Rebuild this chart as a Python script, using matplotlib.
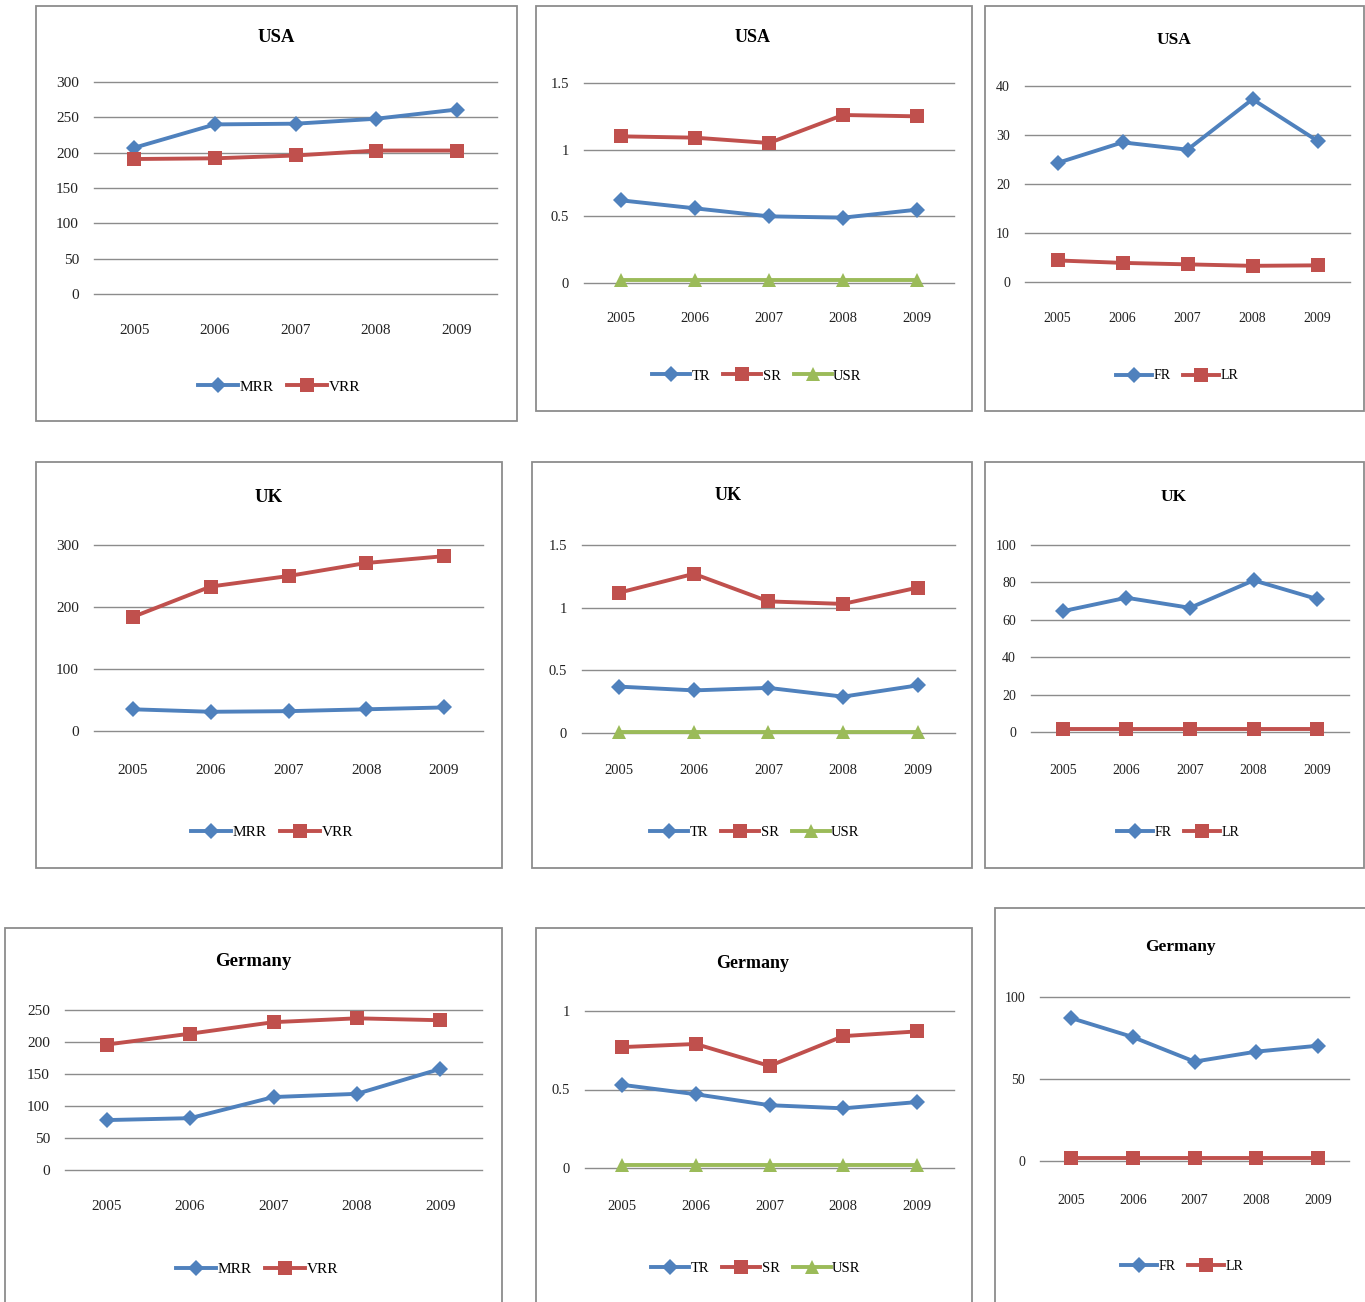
import matplotlib
matplotlib.use("Agg")
import matplotlib.pyplot as plt
from matplotlib.patches import Rectangle

plt.rcParams["font.family"] = ["Liberation Serif", "DejaVu Serif"]

W, H = 1365, 1302
DPI = 100
PX = 72.0 / DPI  # points per pixel

# ------------------------------------------------------------
# DATA
# ------------------------------------------------------------
years = ["2005", "2006", "2007", "2008", "2009"]

usa_mrr = [207, 240, 241, 248, 261]
usa_vrr = [191, 192, 196, 203, 203]
usa_tr = [0.62, 0.56, 0.50, 0.49, 0.55]
usa_sr = [1.10, 1.09, 1.05, 1.26, 1.25]
usa_usr = [0.02, 0.02, 0.02, 0.02, 0.02]
usa_fr = [24.3, 28.5, 27.0, 37.3, 28.8]
usa_lr = [4.4, 3.9, 3.6, 3.3, 3.4]

uk_mrr = [35, 31, 32, 35, 38]
uk_vrr = [184, 233, 250, 271, 282]
uk_tr = [0.37, 0.34, 0.36, 0.29, 0.38]
uk_sr = [1.12, 1.27, 1.05, 1.03, 1.16]
uk_usr = [0.01, 0.01, 0.01, 0.01, 0.01]
uk_fr = [64.6, 71.8, 66.4, 81.1, 71.1]
uk_lr = [1.4, 1.4, 1.4, 1.4, 1.4]

de_mrr = [78, 81, 114, 119, 158]
de_vrr = [196, 213, 231, 237, 234]
de_tr = [0.53, 0.47, 0.40, 0.38, 0.42]
de_sr = [0.77, 0.79, 0.65, 0.84, 0.87]
de_usr = [0.02, 0.02, 0.02, 0.02, 0.02]
de_fr = [87.2, 75.6, 60.6, 66.7, 70.3]
de_lr = [1.6, 1.6, 1.6, 1.6, 1.6]

# ------------------------------------------------------------
# STYLE
# ------------------------------------------------------------
BLUE = "#4F81BD"
RED = "#C0504D"
GREEN = "#9BBB59"
GRID = "#8C8C8C"
FRAME = "#8C8C8C"

STYLE = {
    "MRR": (BLUE, "D", 8.0), "TR": (BLUE, "D", 8.0), "FR": (BLUE, "D", 8.0),
    "VRR": (RED, "s", 10.0), "SR": (RED, "s", 10.0), "LR": (RED, "s", 10.0),
    "USR": (GREEN, "^", 10.0),
}

# frame box, plot box (x0, ytop, x1, ybottom), y range, title/tick/legend rows
PANELS = [
    dict(title="USA", series={"MRR": usa_mrr, "VRR": usa_vrr},
         frame=(36, 6, 517, 421), plot=(94, 82, 497, 294), ymax=300, ystep=50,
         title_xy=(276, 38), tick_y=330, leg_xy=(279, 387), fs=11),
    dict(title="USA", series={"TR": usa_tr, "SR": usa_sr, "USR": usa_usr},
         frame=(536, 6, 972, 411), plot=(584, 83, 954, 283), ymax=1.5, ystep=0.5,
         title_xy=(753, 38), tick_y=319, leg_xy=(757, 376), fs=10.5),
    dict(title="USA", series={"FR": usa_fr, "LR": usa_lr},
         frame=(985, 6, 1364, 411), plot=(1025, 86, 1350, 282), ymax=40, ystep=10,
         title_xy=(1174, 40), tick_y=318, leg_xy=(1177, 376), fs=10),
    dict(title="UK", series={"MRR": uk_mrr, "VRR": uk_vrr},
         frame=(36, 462, 502, 868), plot=(94, 545, 483, 731), ymax=300, ystep=100,
         title_xy=(269, 497), tick_y=771, leg_xy=(272, 832), fs=11),
    dict(title="UK", series={"TR": uk_tr, "SR": uk_sr, "USR": uk_usr},
         frame=(532, 462, 972, 868), plot=(582, 545, 955, 733), ymax=1.5, ystep=0.5,
         title_xy=(728, 495), tick_y=771, leg_xy=(755, 832), fs=10.5),
    dict(title="UK", series={"FR": uk_fr, "LR": uk_lr},
         frame=(985, 462, 1364, 868), plot=(1031, 545, 1349, 732), ymax=100, ystep=20,
         title_xy=(1174, 497), tick_y=770, leg_xy=(1178, 832), fs=10),
    dict(title="Germany", series={"MRR": de_mrr, "VRR": de_vrr},
         frame=(5, 928, 502, 1320), plot=(65, 1010, 482, 1170), ymax=250, ystep=50,
         title_xy=(253, 962), tick_y=1207, leg_xy=(257, 1269), fs=11),
    dict(title="Germany", series={"TR": de_tr, "SR": de_sr, "USR": de_usr},
         frame=(536, 928, 972, 1320), plot=(585, 1011, 954, 1168), ymax=1, ystep=0.5,
         title_xy=(753, 963), tick_y=1207, leg_xy=(756, 1268), fs=10.5),
    dict(title="Germany", series={"FR": de_fr, "LR": de_lr},
         frame=(995, 908, 1366, 1320), plot=(1040, 997, 1349, 1161), ymax=100, ystep=50,
         title_xy=(1180, 947), tick_y=1201, leg_xy=(1182, 1266), fs=10),
]


def fx(x):
    return x / W


def fy(y):
    return 1 - y / H


def fmt(v):
    return f"{v:g}"


def draw_panel(fig, p):
    x0, y0, x1, y1 = p["frame"]
    fig.add_artist(Rectangle((fx(x0), fy(y1)), fx(x1 - x0), (y1 - y0) / H,
                             transform=fig.transFigure, fill=False,
                             edgecolor=FRAME, linewidth=1.3))

    gx0, gyt, gx1, gyb = p["plot"]
    ax = fig.add_axes([fx(gx0), fy(gyb), fx(gx1 - gx0), (gyb - gyt) / H])
    ax.set_facecolor("none")

    xs = list(range(len(years)))
    for name, vals in p["series"].items():
        color, marker, ms = STYLE[name]
        ax.plot(xs, vals, color=color, linewidth=2.8, marker=marker,
                markersize=ms, markeredgewidth=0, label=name,
                clip_on=False, zorder=3)

    ymax, ystep = p["ymax"], p["ystep"]
    n = int(round(ymax / ystep))
    yticks = [i * ystep for i in range(n + 1)]
    ax.set_ylim(0, ymax)
    ax.set_xlim(-0.5, len(years) - 0.5)
    ax.set_yticks(yticks)
    ax.set_yticklabels([fmt(v) for v in yticks])
    ax.set_xticks(xs)
    ax.set_xticklabels(years)

    for s in ax.spines.values():
        s.set_visible(False)
    # gridlines drawn unclipped so the zero line shows at full width
    for v in yticks:
        ax.axhline(v, color=GRID, linewidth=1.0, clip_on=False, zorder=1)

    fs = p["fs"]
    ax.tick_params(axis="y", length=0, pad=15 * PX, labelsize=fs, labelcolor="#222222")
    ax.tick_params(axis="x", length=0, pad=(p["tick_y"] - gyb) * PX,
                   labelsize=fs, labelcolor="#222222")
    plt.setp(ax.get_xticklabels(), va="center")

    tx, ty = p["title_xy"]
    fig.text(fx(tx), fy(ty), p["title"], ha="center", va="center",
             fontsize=fs + 2.5, fontweight="bold")

    lx, ly = p["leg_xy"]
    ax.legend(loc="center", bbox_to_anchor=(fx(lx), fy(ly)),
              bbox_transform=fig.transFigure, ncol=len(p["series"]),
              frameon=False, fontsize=fs, handlelength=2.6,
              handletextpad=0.1, columnspacing=0.9, borderpad=0)
    return ax


def main() -> None:
    fig = plt.figure(figsize=(W / DPI, H / DPI), dpi=DPI)
    fig.patch.set_facecolor("white")
    for p in PANELS:
        draw_panel(fig, p)
    fig.savefig("out.png", dpi=DPI)


if __name__ == "__main__":
    main()
